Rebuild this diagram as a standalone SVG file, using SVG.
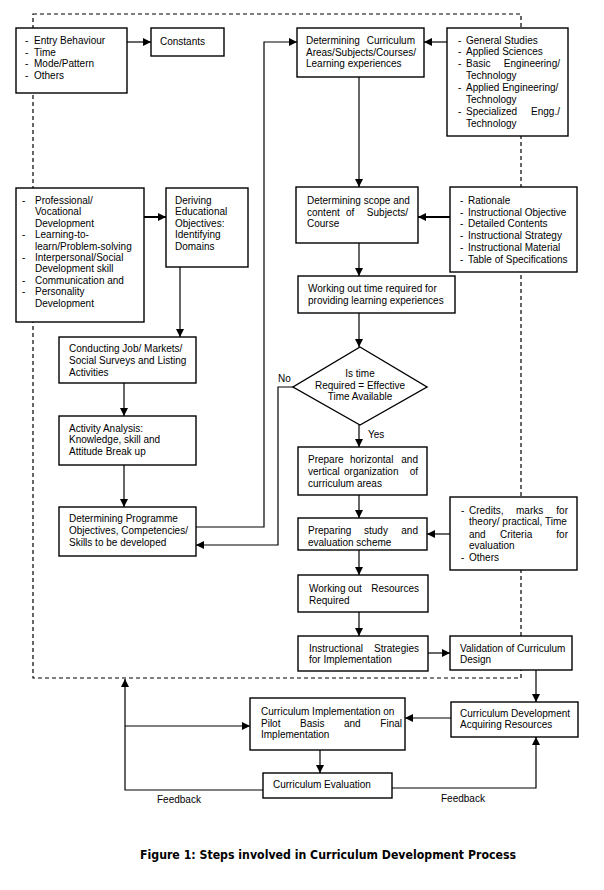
<svg xmlns="http://www.w3.org/2000/svg" width="604" height="890" viewBox="0 0 604 890">
<style>
.bg{fill:#fff}
.box rect,.box polygon{fill:#fff;stroke:#000;stroke-width:1.4}
text{font-family:"Liberation Sans",Arial,sans-serif;font-size:10px;fill:#000}
.cap{font-family:"DejaVu Sans",Verdana,sans-serif;font-size:12px;font-weight:bold}
.ct{text-anchor:middle}
.e{text-anchor:end}
.frame{fill:none;stroke:#000;stroke-width:1.2;stroke-dasharray:4,3}
#connectors path{fill:none;stroke:#000;stroke-width:1.2}
#connectors path.thick{stroke-width:2}
</style>
<defs>
<marker id="ah" markerUnits="userSpaceOnUse" markerWidth="10" markerHeight="10" refX="8" refY="4" orient="auto">
<path d="M0,0 L8,4 L0,8 Z" fill="#000"/>
</marker>
</defs>
<rect class="bg" x="0" y="0" width="604" height="890"/>
<rect class="frame" x="33" y="14" width="488" height="664"/>

<g id="connectors">
<path d="M127,42 H151" marker-end="url(#ah)"/>
<path d="M196,527 H264 V42 H297" marker-end="url(#ah)"/>
<path d="M447,42 H424" marker-end="url(#ah)"/>
<path d="M359,77 V187" marker-end="url(#ah)"/>
<path class="thick" d="M144,217 H166" marker-end="url(#ah)"/>
<path d="M180,267 V337" marker-end="url(#ah)"/>
<path d="M124,383 V416" marker-end="url(#ah)"/>
<path d="M124,465 V507" marker-end="url(#ah)"/>
<path class="thick" d="M450,217 H418" marker-end="url(#ah)"/>
<path d="M359,243 V276" marker-end="url(#ah)"/>
<path d="M359,313 V347" marker-end="url(#ah)"/>
<path d="M293,387 H278 V545 H196" marker-end="url(#ah)"/>
<path d="M359,425 V447" marker-end="url(#ah)"/>
<path d="M359,495 V518" marker-end="url(#ah)"/>
<path d="M450,534 H427" marker-end="url(#ah)"/>
<path d="M359,550 V575" marker-end="url(#ah)"/>
<path d="M359,612 V636" marker-end="url(#ah)"/>
<path d="M428,653 H450" marker-end="url(#ah)"/>
<path d="M536,670 V702" marker-end="url(#ah)"/>
<path d="M451,718 H405" marker-end="url(#ah)"/>
<path d="M320,750 V773" marker-end="url(#ah)"/>
<path d="M263,790 H125 V679" marker-end="url(#ah)"/>
<path d="M125,726 H250" marker-end="url(#ah)"/>
<path d="M392,788 H536 V737" marker-end="url(#ah)"/>
<text x="278" y="382">No</text>
<text x="368" y="438">Yes</text>
<text x="157" y="803">Feedback</text>
<text x="441" y="802">Feedback</text>
</g>

<g id="entry" class="box">
<rect x="16" y="28" width="111" height="65"/>
<text x="25" y="44">-</text><text x="34" y="44">Entry Behaviour</text>
<text x="25" y="56">-</text><text x="34" y="56">Time</text>
<text x="25" y="67">-</text><text x="34" y="67">Mode/Pattern</text>
<text x="25" y="79">-</text><text x="34" y="79">Others</text>
</g>

<g id="constants" class="box">
<rect x="151" y="28" width="73" height="28"/>
<text x="160" y="45">Constants</text>
</g>

<g id="curriculum-areas" class="box">
<rect x="297" y="28" width="127" height="49"/>
<text x="306" y="44">Determining</text><text class="e" x="415" y="44">Curriculum</text>
<text x="306" y="56">Areas/Subjects/Courses/</text>
<text x="306" y="67">Learning experiences</text>
</g>

<g id="studies" class="box">
<rect x="447" y="28" width="121" height="108"/>
<text x="458" y="44">-</text><text x="466" y="44">General Studies</text>
<text x="458" y="55">-</text><text x="466" y="55">Applied Sciences</text>
<text x="458" y="67">-</text><text x="466" y="67">Basic</text><text class="e" x="560" y="67">Engineering/</text>
<text x="466" y="79">Technology</text>
<text x="458" y="91">-</text><text x="466" y="91">Applied Engineering/</text>
<text x="466" y="103">Technology</text>
<text x="458" y="115">-</text><text x="466" y="115">Specialized</text><text class="e" x="560" y="115">Engg./</text>
<text x="466" y="127">Technology</text>
</g>

<g id="professional" class="box">
<rect x="16" y="188" width="128" height="134"/>
<text x="22" y="204">-</text><text x="35" y="204">Professional/</text>
<text x="35" y="215">Vocational</text>
<text x="35" y="227">Development</text>
<text x="22" y="238">-</text><text x="35" y="238">Learning-to-</text>
<text x="35" y="250">learn/Problem-solving</text>
<text x="22" y="261">-</text><text x="35" y="261">Interpersonal/Social</text>
<text x="35" y="272">Development skill</text>
<text x="22" y="284">-</text><text x="35" y="284">Communication and</text>
<text x="22" y="295">-</text><text x="35" y="295">Personality</text>
<text x="35" y="307">Development</text>
</g>

<g id="deriving" class="box">
<rect x="166" y="188" width="82" height="79"/>
<text x="175" y="204">Deriving</text>
<text x="175" y="215">Educational</text>
<text x="175" y="227">Objectives:</text>
<text x="175" y="238">Identifying</text>
<text x="175" y="250">Domains</text>
</g>

<g id="conducting" class="box">
<rect x="59" y="337" width="137" height="46"/>
<text x="69" y="352">Conducting Job/ Markets/</text>
<text x="69" y="364">Social Surveys and Listing</text>
<text x="69" y="376">Activities</text>
</g>

<g id="activity" class="box">
<rect x="59" y="416" width="137" height="49"/>
<text x="69" y="432">Activity Analysis:</text>
<text x="69" y="443">Knowledge, skill and</text>
<text x="69" y="455">Attitude Break up</text>
</g>

<g id="programme" class="box">
<rect x="59" y="507" width="137" height="49"/>
<text x="69" y="522">Determining Programme</text>
<text x="69" y="534">Objectives, Competencies/</text>
<text x="69" y="546">Skills to be developed</text>
</g>

<g id="scope" class="box">
<rect x="296" y="187" width="122" height="56"/>
<text x="307" y="204">Determining scope and</text>
<text x="307" y="216">content</text><text x="346" y="216">of</text><text class="e" x="408" y="216">Subjects/</text>
<text x="307" y="227">Course</text>
</g>

<g id="rationale" class="box">
<rect x="450" y="187" width="127" height="85"/>
<text x="460" y="204">-</text><text x="468" y="204">Rationale</text>
<text x="460" y="216">-</text><text x="468" y="216">Instructional Objective</text>
<text x="460" y="227">-</text><text x="468" y="227">Detailed Contents</text>
<text x="460" y="239">-</text><text x="468" y="239">Instructional Strategy</text>
<text x="460" y="251">-</text><text x="468" y="251">Instructional Material</text>
<text x="460" y="263">-</text><text x="468" y="263">Table of Specifications</text>
</g>

<g id="working-time" class="box">
<rect x="298" y="276" width="157" height="37"/>
<text x="308" y="292">Working out time required for</text>
<text x="308" y="304">providing learning experiences</text>
</g>

<g id="decision" class="box">
<polygon points="360,347 427,387 360,425 293,387"/>
<text class="ct" x="360" y="377">Is time</text>
<text class="ct" x="360" y="389">Required = Effective</text>
<text class="ct" x="360" y="400">Time Available</text>
</g>

<g id="prepare" class="box">
<rect x="298" y="447" width="129" height="48"/>
<text x="308" y="463">Prepare</text><text x="350" y="463">horizontal</text><text class="e" x="418" y="463">and</text>
<text x="308" y="475">vertical</text><text x="344" y="475">organization</text><text class="e" x="418" y="475">of</text>
<text x="308" y="487">curriculum areas</text>
</g>

<g id="study-scheme" class="box">
<rect x="298" y="518" width="129" height="32"/>
<text x="308" y="534">Preparing</text><text x="364" y="534">study</text><text class="e" x="418" y="534">and</text>
<text x="308" y="546">evaluation scheme</text>
</g>

<g id="credits" class="box">
<rect x="450" y="497" width="127" height="73"/>
<text x="461" y="514">-</text><text x="469" y="514">Credits,</text><text x="516" y="514">marks</text><text class="e" x="568" y="514">for</text>
<text x="469" y="525">theory/ practical, Time</text>
<text x="469" y="538">and</text><text x="500" y="538">Criteria</text><text class="e" x="568" y="538">for</text>
<text x="469" y="549">evaluation</text>
<text x="461" y="561">-</text><text x="469" y="561">Others</text>
</g>

<g id="resources" class="box">
<rect x="298" y="575" width="130" height="37"/>
<text x="309" y="592">Working</text><text x="348" y="592">out</text><text class="e" x="419" y="592">Resources</text>
<text x="309" y="604">Required</text>
</g>

<g id="strategies" class="box">
<rect x="298" y="636" width="130" height="35"/>
<text x="309" y="652">Instructional</text><text class="e" x="419" y="652">Strategies</text>
<text x="309" y="663">for Implementation</text>
</g>

<g id="validation" class="box">
<rect x="450" y="636" width="122" height="34"/>
<text x="460" y="652">Validation of Curriculum</text>
<text x="460" y="663">Design</text>
</g>

<g id="development" class="box">
<rect x="451" y="702" width="127" height="35"/>
<text x="460" y="717">Curriculum Development</text>
<text x="460" y="728">Acquiring Resources</text>
</g>

<g id="implementation" class="box">
<rect x="250" y="698" width="155" height="52"/>
<text x="261" y="715">Curriculum Implementation on</text>
<text x="261" y="727">Pilot</text><text x="300" y="727">Basis</text><text x="344" y="727">and</text><text class="e" x="402" y="727">Final</text>
<text x="261" y="738">Implementation</text>
</g>

<g id="evaluation" class="box">
<rect x="263" y="773" width="129" height="25"/>
<text x="273" y="788">Curriculum Evaluation</text>
</g>

<text class="cap" x="140" y="859" textLength="376" lengthAdjust="spacingAndGlyphs">Figure 1: Steps involved in Curriculum Development Process</text>
</svg>
